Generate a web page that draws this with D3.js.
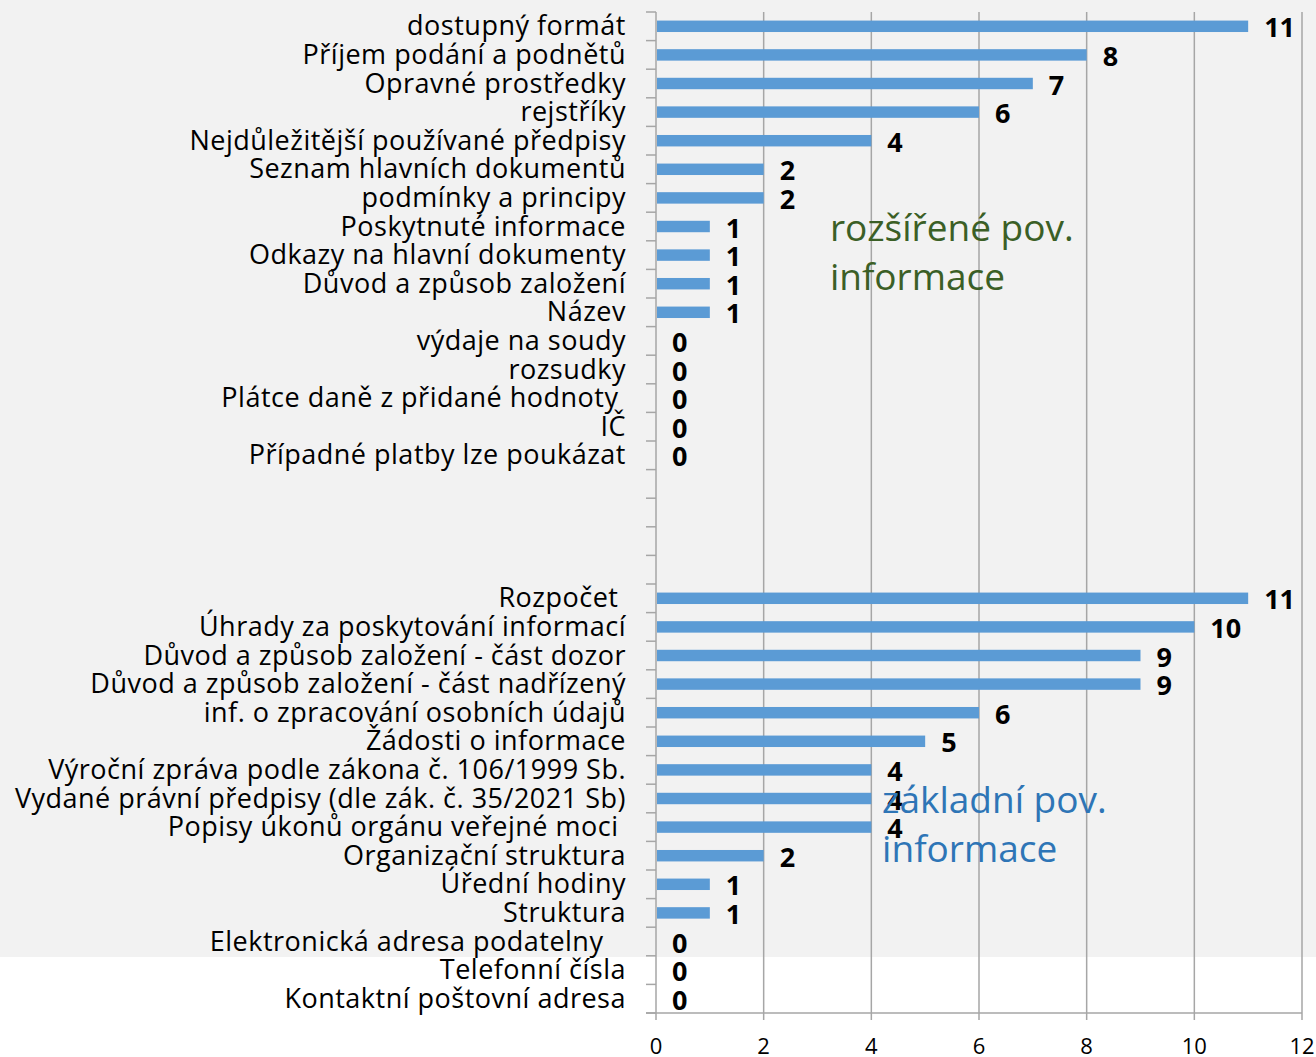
<!DOCTYPE html>
<html><head><meta charset="utf-8">
<script src="https://cdn.jsdelivr.net/npm/d3@7"></script>
<style>body{margin:0;background:#fff}svg{display:block}</style>
</head><body>
<svg id="c" width="1316" height="1057"></svg>
<script>
const categories = [
"dostupný formát","Příjem podání a podnětů","Opravné prostředky","rejstříky",
"Nejdůležitější používané předpisy","Seznam hlavních dokumentů","podmínky a principy",
"Poskytnuté informace","Odkazy na hlavní dokumenty","Důvod a způsob založení","Název",
"výdaje na soudy","rozsudky","Plátce daně z přidané hodnoty ","IČ","Případné platby lze poukázat",
"","","","",
"Rozpočet ","Úhrady za poskytování informací","Důvod a způsob založení - část dozor",
"Důvod a způsob založení - část nadřízený","inf. o zpracování osobních údajů","Žádosti o informace",
"Výroční zpráva podle zákona č. 106/1999 Sb.","Vydané právní předpisy (dle zák. č. 35/2021 Sb)",
"Popisy úkonů orgánu veřejné moci ","Organizační struktura","Úřední hodiny","Struktura",
"Elektronická adresa podatelny   ","Telefonní čísla","Kontaktní poštovní adresa"
];
const values = [11,8,7,6,4,2,2,1,1,1,1,0,0,0,0,0, null,null,null,null,
  11,10,9,9,6,5,4,4,4,2,1,1,0,0,0];
const xTicks = [0,2,4,6,8,10,12];
const annotations = [
  {lines:["rozšířené pov.","informace"], x:3.23, yTop:228, color:"#3b5f26"},
  {lines:["základní pov.","informace"], x:4.2, yTop:800, color:"#2e75b6"}
];

const svg = d3.select("#c");
const font = "'Open Sans', 'Noto Sans', sans-serif";
const idx = d3.range(categories.length);
const x = d3.scaleLinear().domain([0,12]).range([656,1302]);
const y = d3.scaleBand().domain(idx).range([12,1013]).paddingInner(0.6).paddingOuter(0.3);
const step = y.step();
const center = i => y(i) + y.bandwidth()/2;
const rowTop = i => center(i) - step/2;

// background
svg.append("rect").attr("x",0).attr("y",0).attr("width",1316).attr("height",957).attr("fill","#f2f2f2");

// gridlines
svg.selectAll(".grid").data(xTicks.filter(t=>t>0)).join("line")
  .attr("x1",d=>x(d)).attr("x2",d=>x(d)).attr("y1",12).attr("y2",1020)
  .attr("stroke","#a6a6a6").attr("stroke-width",1.5);

// y axis line & ticks
svg.append("line").attr("x1",656).attr("x2",656).attr("y1",12).attr("y2",1020)
  .attr("stroke","#a6a6a6").attr("stroke-width",1.5);
const boundaries = idx.map(rowTop).concat([1013]);
svg.selectAll(".yt").data(boundaries).join("line")
  .attr("x1",646).attr("x2",656).attr("y1",d=>d).attr("y2",d=>d)
  .attr("stroke","#a6a6a6").attr("stroke-width",1.5);
// x axis line
svg.append("line").attr("x1",646).attr("x2",1302).attr("y1",1013).attr("y2",1013)
  .attr("stroke","#a6a6a6").attr("stroke-width",1.5);

// bars
const data = idx.map(i=>({i, c:categories[i], v:values[i]}));
svg.selectAll(".bar").data(data.filter(d=>d.v!==null)).join("rect")
  .attr("x",x(0)+1).attr("y",d=>y(d.i)).attr("height",y.bandwidth())
  .attr("width",d=>Math.max(0,x(d.v)-x(0)-1)).attr("fill","#5b9bd5");

// category labels
svg.selectAll(".cl").data(data.filter(d=>d.c!=="")).join("text")
  .attr("x",626).attr("y",d=>center(d.i)+9)
  .attr("text-anchor","end").attr("font-family",font).attr("font-size",27)
  .attr("letter-spacing","0.5px")
  .attr("fill","#000").style("white-space","pre").text(d=>d.c);

// value labels
svg.selectAll(".vl").data(data.filter(d=>d.v!==null)).join("text")
  .attr("x",d=>x(d.v)+16).attr("y",d=>center(d.i)+11)
  .attr("font-family",font).attr("font-size",27).attr("font-weight","bold")
  .attr("fill","#000").text(d=>d.v);

// x tick labels
svg.selectAll(".xl").data(xTicks).join("text")
  .attr("x",d=>x(d)).attr("y",1054).attr("text-anchor","middle")
  .attr("font-family",font).attr("font-size",22).attr("fill","#000").text(d=>d);

// annotations
annotations.forEach(a=>{
  const t = svg.append("text").attr("font-family",font).attr("font-size",37).attr("fill",a.color);
  a.lines.forEach((l,k)=>{
    t.append("tspan").attr("x",x(a.x)).attr("y",a.yTop + k*49).attr("dy","0.35em").text(l);
  });
});
</script>
</body></html>
